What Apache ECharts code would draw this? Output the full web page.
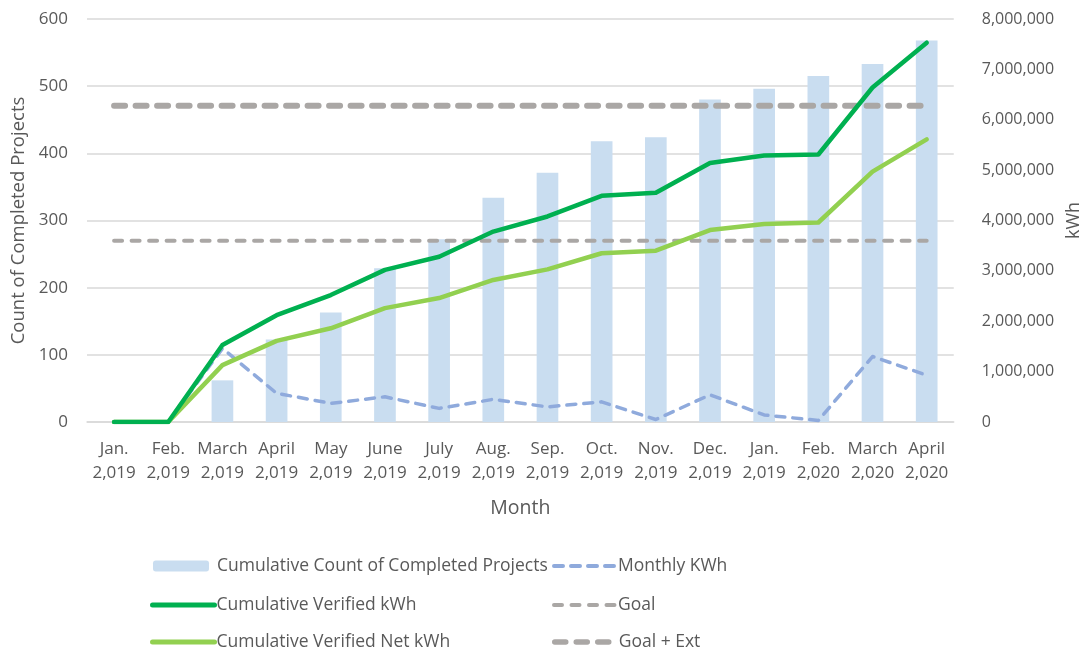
<!DOCTYPE html>
<html>
<head>
<meta charset="utf-8">
<script src="https://cdn.jsdelivr.net/npm/echarts@6/dist/echarts.min.js"></script>
<style>
  html, body { margin: 0; padding: 0; background: #fff; }
  #chart { width: 1091px; height: 652px; }
</style>
</head>
<body>
<div id="chart"></div>
<script>
// months (the source labels Jan. 2020 as 2,019, kept as is)
var months = ['Jan.\n2,019', 'Feb.\n2,019', 'March\n2,019', 'April\n2,019', 'May\n2,019', 'June\n2,019',
  'July\n2,019', 'Aug.\n2,019', 'Sep.\n2,019', 'Oct.\n2,019', 'Nov.\n2,019', 'Dec.\n2,019',
  'Jan.\n2,019', 'Feb.\n2,020', 'March\n2,020', 'April\n2,020'];

// left axis - count of projects
var completedProjects = [0, 0, 62, 123, 163, 229, 272, 334, 371, 418, 424, 480, 496, 515, 533, 568];

// right axis - kWh
var verifiedKwh = [0, 0, 1530000, 2120000, 2520000, 3020000, 3280000, 3780000, 4080000, 4490000,
  4550000, 5140000, 5290000, 5310000, 6640000, 7530000];
var verifiedNetKwh = [0, 0, 1130000, 1610000, 1860000, 2260000, 2460000, 2820000, 3030000, 3350000,
  3400000, 3810000, 3930000, 3960000, 4970000, 5610000];
var monthlyKwh = [0, 0, 1460000, 570000, 370000, 500000, 270000, 450000, 300000, 400000,
  50000, 540000, 140000, 30000, 1300000, 930000];
var goalKwh = [3600000, 3600000, 3600000, 3600000, 3600000, 3600000, 3600000, 3600000,
  3600000, 3600000, 3600000, 3600000, 3600000, 3600000, 3600000, 3600000];
var goalExtKwh = [6280000, 6280000, 6280000, 6280000, 6280000, 6280000, 6280000, 6280000,
  6280000, 6280000, 6280000, 6280000, 6280000, 6280000, 6280000, 6280000];

var leftTicks = { min: 0, max: 600, interval: 100 };
var rightTicks = { min: 0, max: 8000000, interval: 1000000 };

var textColor = '#595959';
var fontName = 'Open Sans';

var myChart = echarts.init(document.getElementById('chart'));

function fmtThousands(v) {
  return String(v).replace(/\B(?=(\d{3})+(?!\d))/g, ',');
}

//一个图例项一个legend，位置按原图摆
function legendItem(name, left, top, lineWidth) {
  var item = { name: name };
  var iconW = 56, iconH = 11, textPad = 3;
  if (lineWidth) {
    item.itemStyle = { opacity: 0 };
    item.lineStyle = { width: lineWidth };
    iconW = 62;
    textPad = -3;
  }
  return {
    left: left, top: top,
    itemWidth: iconW, itemHeight: iconH,
    padding: 0,
    textStyle: { fontSize: 17.5, color: textColor, fontFamily: fontName, padding: [0, 0, 0, textPad] },
    data: [item]
  };
}

var option = {
  animation: false,
  textStyle: { fontFamily: fontName, color: textColor },
  grid: { left: 87, right: 133, top: 19, bottom: 230 },
  legend: [
    legendItem('Cumulative Count of Completed Projects', 153, 557, 0),
    legendItem('Cumulative Verified kWh', 150, 596, 5),
    legendItem('Cumulative Verified Net kWh', 150, 633, 5),
    legendItem('Monthly KWh', 552, 557, 4),
    legendItem('Goal', 552, 596, 4),
    legendItem('Goal + Ext', 552, 633, 5.5)
  ],
  xAxis: {
    type: 'category',
    data: months,
    name: 'Month',
    nameLocation: 'middle',
    nameGap: 76,
    nameTextStyle: { fontSize: 19.5, color: textColor },
    axisLine: { lineStyle: { color: '#d9d9d9', width: 1.5 } },
    axisTick: { show: false },
    axisLabel: { interval: 0, fontSize: 17, lineHeight: 24, color: textColor, margin: 15 }
  },
  yAxis: [
    {
      type: 'value',
      min: leftTicks.min, max: leftTicks.max, interval: leftTicks.interval,
      name: 'Count of Completed Projects',
      nameLocation: 'middle',
      nameRotate: 90,
      nameGap: 59,
      nameTextStyle: { fontSize: 18.5, color: textColor },
      axisLine: { show: false },
      axisTick: { show: false },
      axisLabel: { fontSize: 17, color: textColor, margin: 19 },
      splitLine: { lineStyle: { color: '#d9d9d9', width: 1.5 } }
    },
    {
      type: 'value',
      min: rightTicks.min, max: rightTicks.max, interval: rightTicks.interval,
      name: 'kWh',
      nameLocation: 'middle',
      nameRotate: 90,
      nameGap: 106,
      nameTextStyle: { fontSize: 18, color: textColor },
      axisLine: { show: false },
      axisTick: { show: false },
      axisLabel: { fontSize: 16, color: textColor, margin: 28, formatter: fmtThousands },
      splitLine: { show: false }
    }
  ],
  series: [
    {
      name: 'Cumulative Count of Completed Projects',
      type: 'bar',
      yAxisIndex: 0,
      barWidth: '40%',
      itemStyle: { color: '#c9ddf0' },
      data: completedProjects
    },
    {
      name: 'Goal',
      type: 'line',
      yAxisIndex: 1,
      symbol: 'none',
      lineStyle: { color: '#aaa7a5', width: 4, type: [8, 9.5], cap: 'round' },
      itemStyle: { color: '#aaa7a5' },
      data: goalKwh
    },
    {
      name: 'Goal + Ext',
      type: 'line',
      yAxisIndex: 1,
      symbol: 'none',
      lineStyle: { color: '#aaa7a5', width: 6, type: [11, 10.5], cap: 'round' },
      itemStyle: { color: '#aaa7a5' },
      data: goalExtKwh
    },
    {
      name: 'Monthly KWh',
      type: 'line',
      yAxisIndex: 1,
      symbol: 'none',
      lineStyle: { color: '#8faadc', width: 3.5, type: [9, 8], cap: 'round', join: 'round' },
      itemStyle: { color: '#8faadc' },
      data: monthlyKwh
    },
    {
      name: 'Cumulative Verified Net kWh',
      type: 'line',
      yAxisIndex: 1,
      symbol: 'none',
      lineStyle: { color: '#92d050', width: 4.5, cap: 'round', join: 'round' },
      itemStyle: { color: '#92d050' },
      data: verifiedNetKwh
    },
    {
      name: 'Cumulative Verified kWh',
      type: 'line',
      yAxisIndex: 1,
      symbol: 'none',
      lineStyle: { color: '#00b050', width: 4.5, cap: 'round', join: 'round' },
      itemStyle: { color: '#00b050' },
      data: verifiedKwh
    }
  ]
};

myChart.setOption(option);
</script>
</body>
</html>
